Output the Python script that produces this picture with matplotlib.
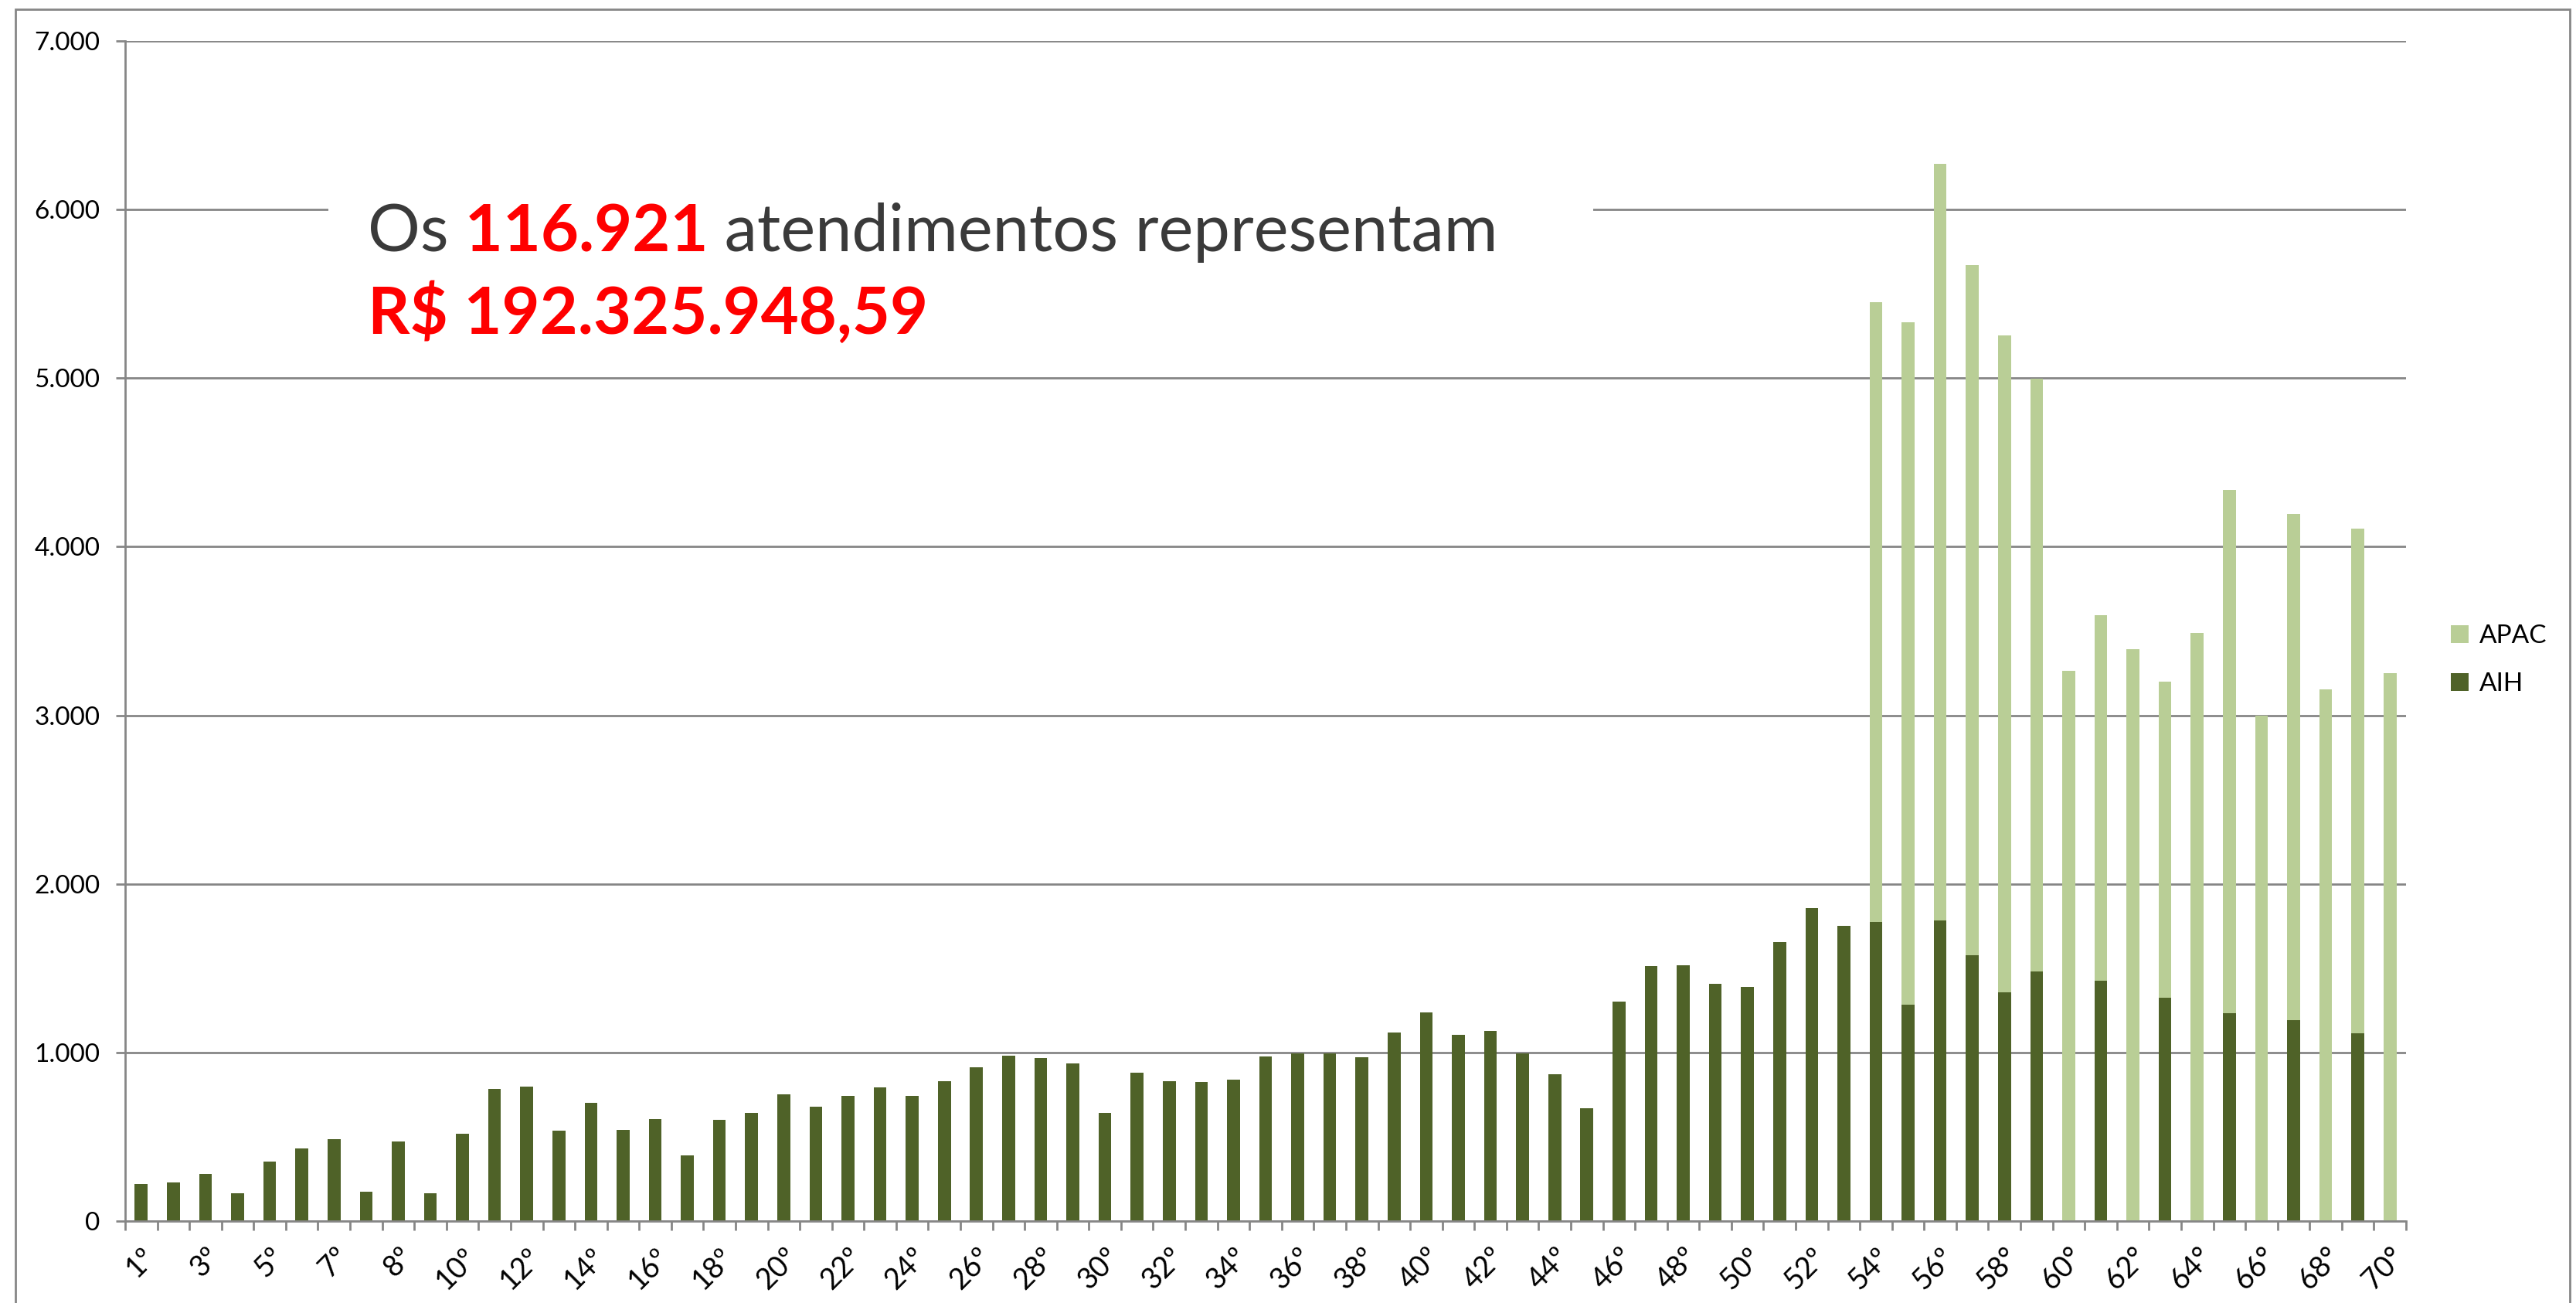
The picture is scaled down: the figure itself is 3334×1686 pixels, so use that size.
import numpy as np
import matplotlib.pyplot as plt
from matplotlib.patches import Rectangle
from matplotlib.ticker import FuncFormatter

plt.rcParams["font.family"] = ["Lato", "DejaVu Sans"]

# AIH (dark) and APAC (light) per ranking position, 71 bars
aih = [222, 230, 279, 167, 351, 431, 486, 175, 471, 167,
       518, 784, 799, 535, 702, 543, 607, 391, 600, 640,
       752, 679, 742, 791, 742, 831, 911, 982, 966, 936,
       640, 879, 831, 824, 839, 975, 997, 997, 974, 1118,
       1239, 1104, 1127, 997, 871, 670, 1302, 1511, 1518, 1408,
       1391, 1656, 1856, 1752, 1776, 1285, 1785, 1578, 1356, 1482,
       0, 1425, 0, 1324, 0, 1233, 0, 1194, 0, 1114, 0]
apac = [0, 0, 0, 0, 0, 0, 0, 0, 0, 0,
        0, 0, 0, 0, 0, 0, 0, 0, 0, 0,
        0, 0, 0, 0, 0, 0, 0, 0, 0, 0,
        0, 0, 0, 0, 0, 0, 0, 0, 0, 0,
        0, 0, 0, 0, 0, 0, 0, 0, 0, 0,
        0, 0, 0, 0, 3676, 4046, 4487, 4092, 3899, 3516,
        3262, 2168, 3394, 1876, 3489, 3102, 2998, 3001, 3156, 2992, 3249]

# labels shown under every other bar
xlabels = ["1º", "3º", "5º", "7º", "8º", "10º", "12º", "14º", "16º", "18º",
           "20º", "22º", "24º", "26º", "28º", "30º", "32º", "34º", "36º", "38º",
           "40º", "42º", "44º", "46º", "48º", "50º", "52º", "54º", "56º", "58°",
           "60°", "62°", "64°", "66°", "68°", "70°"]
yticks = [0, 1000, 2000, 3000, 4000, 5000, 6000, 7000]

W, H = 3334, 1686
gray = "#868686"
dark = "#4F6228"
light = "#B9CE96"
txt = "#3a3a3a"

fig = plt.figure(figsize=(W / 100, H / 100), dpi=100)
ax = fig.add_axes([162 / W, 1 - 1580 / H, (3114 - 162) / W, (1580 - 53) / H])

x = np.arange(len(aih))
b_aih = ax.bar(x, aih, width=0.4, color=dark, zorder=2)
b_apac = ax.bar(x, apac, width=0.4, bottom=aih, color=light, zorder=2)

ax.set_xlim(-0.5, len(aih) - 0.5)
ax.set_ylim(0, 7000)
ax.set_yticks(yticks)
ax.yaxis.set_major_formatter(FuncFormatter(lambda v, p: f"{int(v):,}".replace(",", ".")))
ax.yaxis.grid(True, color=gray, lw=2)
ax.set_axisbelow(True)

for s in ["top", "right"]:
    ax.spines[s].set_visible(False)
for s in ["left", "bottom"]:
    ax.spines[s].set_color(gray)
    ax.spines[s].set_linewidth(2)

ax.tick_params(axis="y", direction="out", length=8.6, width=2, color=gray,
               labelsize=24, pad=15)
ax.set_xticks(x[::2])
ax.set_xticklabels(xlabels, rotation=45, ha="right", va="top", rotation_mode="anchor")
ax.set_xticks(np.arange(-0.5, len(aih), 1), minor=True)
ax.tick_params(axis="x", which="major", length=0, labelsize=27, pad=20)
ax.tick_params(axis="x", which="minor", direction="out", length=8.6, width=2, color=gray)

# outer chart border
fig.add_artist(Rectangle((20 / W, -0.1), (3326 - 20) / W, 1 - 12 / H + 0.1,
                         transform=fig.transFigure, fill=False, edgecolor=gray, lw=2))

# white box behind the annotation (above gridlines, inside the axes)
ax.add_patch(Rectangle((425 / W, 1 - 465 / H), (2062 - 425) / W, 230 / H,
                       transform=fig.transFigure, facecolor="white", edgecolor="none",
                       zorder=3, clip_on=False))

fs = 61
t1 = ax.text(476 / W, 1 - 325 / H, "Os", transform=fig.transFigure, fontsize=fs,
             color=txt, va="baseline", zorder=4)
t2 = ax.annotate(" 116.921", xy=(1, 0), xycoords=t1, va="bottom", ha="left",
                 fontsize=fs, color="red", fontweight="bold", zorder=4,
                 annotation_clip=False)
t3 = ax.annotate(" atendimentos representam", xy=(1, 0), xycoords=t2, va="bottom",
                 ha="left", fontsize=fs, color=txt, zorder=4, annotation_clip=False)
ax.text(476 / W, 1 - 432 / H, "R$ 192.325.948,59", transform=fig.transFigure,
        fontsize=fs, color="red", fontweight="bold", va="baseline", zorder=4)

fig.legend([b_apac, b_aih], ["APAC", "AIH"], loc="center left",
           bbox_to_anchor=(3172 / W, 1 - 854 / H), frameon=False, fontsize=24,
           handlelength=0.7, handleheight=0.7, handletextpad=0.4,
           labelspacing=0.95, borderpad=0, borderaxespad=0)

fig.savefig("out.png", dpi=100)
